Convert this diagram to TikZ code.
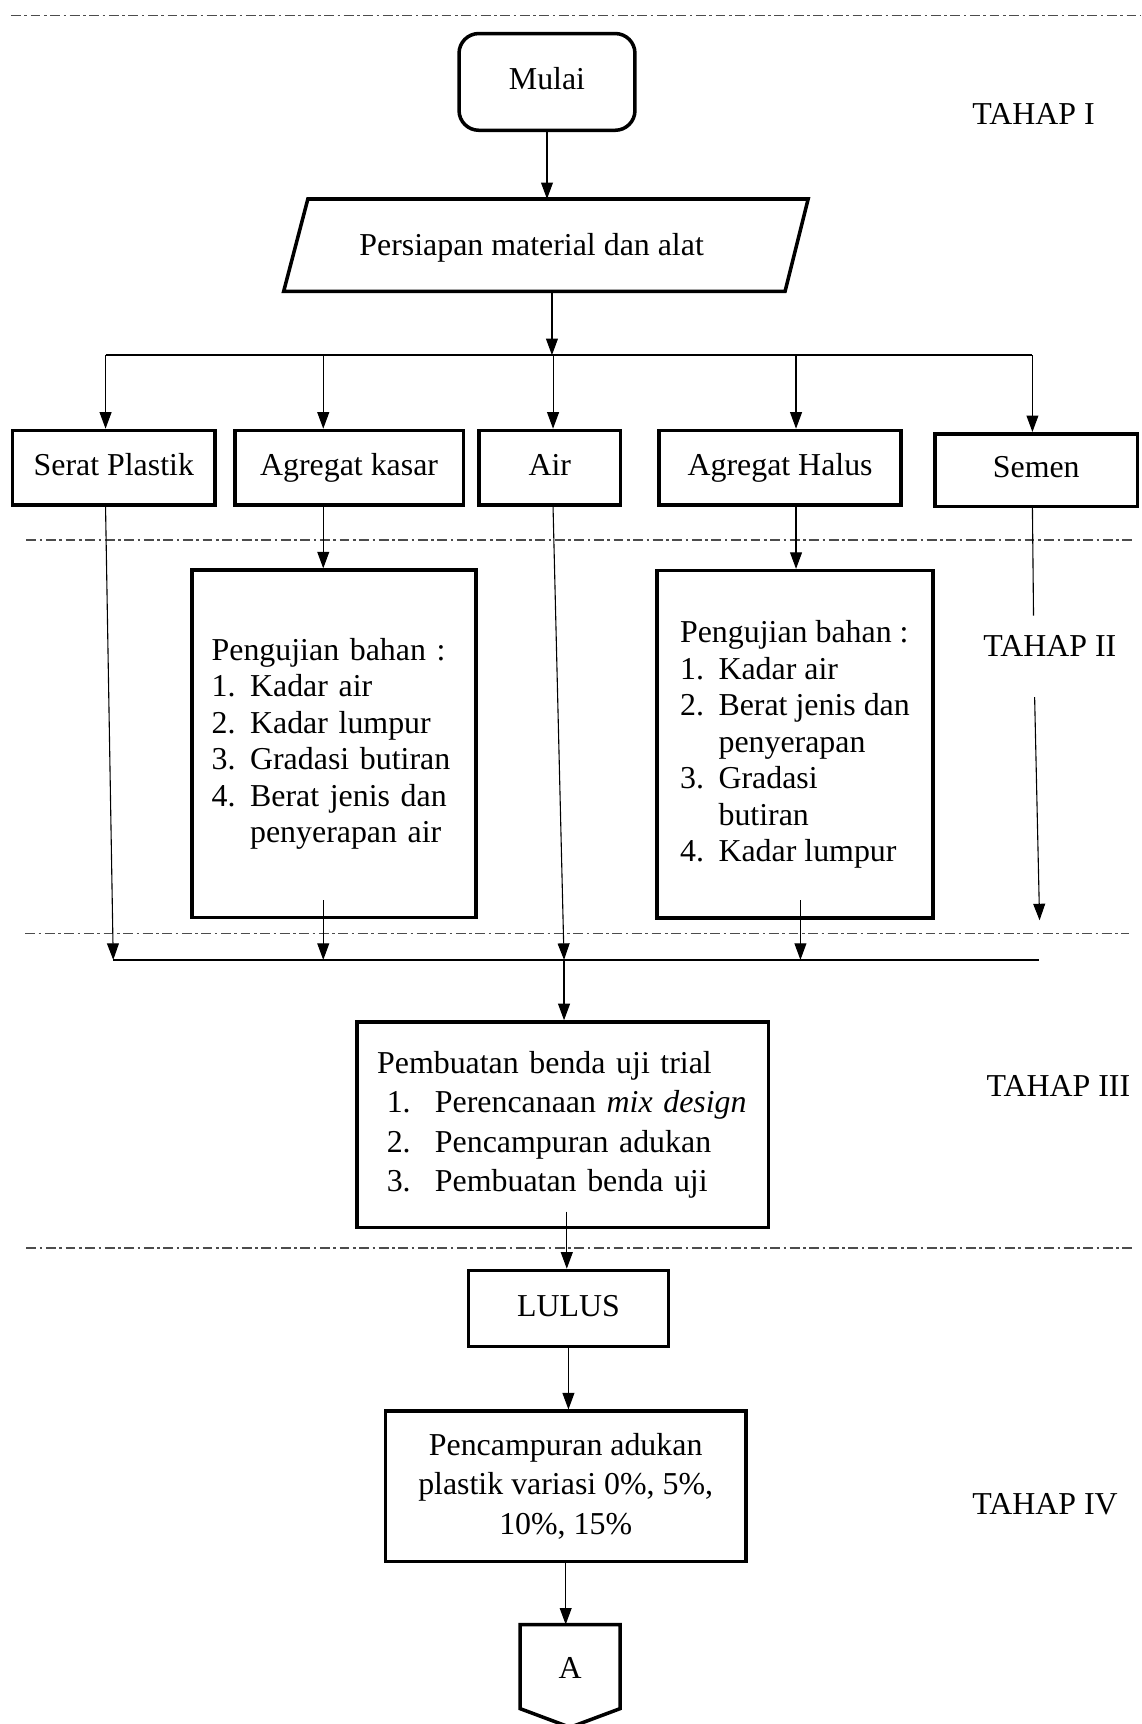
\documentclass[tikz,border=0pt]{standalone}
\usepackage{fontspec}
\setmainfont{Liberation Serif}
\usepackage{tikz}
\usetikzlibrary{calc,positioning,arrows.meta,shapes.geometric}
\newcommand{\nomor}[1]{\makebox[17.5pt][l]{#1}}
\newcommand{\butir}[2]{\hspace*{4.4pt}\makebox[21.9pt][l]{#1}#2}
\tikzset{
	huruf/.style={font=\fontsize{14.5}{16.6}\selectfont, inner sep=0pt},
	satu/.style={huruf, text height=10pt, text depth=3pt},
	kotak/.style={draw, line width=1.6pt},
	panah/.style={-{Triangle[length=7.5pt,width=5.4pt]}, line width=0.5pt},
	batas/.style={line width=0.7pt, black!70, dash pattern=on 4.5pt off 1.6pt on 1.2pt off 1.6pt}
}
\begin{document}
\begin{tikzpicture}[x=0.5pt,y=-0.5pt]
				\useasboundingbox (0,0) rectangle (1038,1568);
				% garis batas tahap
				\draw[batas] (10,14)--(1038,14);
				\draw[batas] (24,491)--(1030,491);
				\draw[batas] (23,849)--(1027,849);
				\draw[batas] (24,1135)--(1030,1135);
				% tahap I
				\node[satu, kotak, rounded corners=9pt, minimum width=80pt, minimum height=44pt] (mulai) at (497.5,74.5) {Mulai};
				\coordinate (pTL) at (280,181);
				\coordinate (pTR) at (735,181);
				\coordinate (pBR) at (714,265);
				\coordinate (pBL) at (258,265);
				\coordinate (pBawah) at (502,265);
				\draw[kotak] (pTL)--(pTR)--(pBR)--(pBL)--cycle;
				\node[satu] (persiapan) at (483.5,225) {Persiapan material dan alat};
				\coordinate (cabang) at (502,323);
				\coordinate (c1) at (96,323);
				\coordinate (c2) at (294,323);
				\coordinate (c3) at (503,323);
				\coordinate (c4) at (724,323);
				\coordinate (c5) at (939,323);
				\node[satu, kotak, minimum width=92pt, minimum height=34pt] (serat) at (103.5,425.5) {Serat Plastik};
				\node[satu, kotak, minimum width=104pt, minimum height=34pt] (kasar) at (317.5,425.5) {Agregat kasar};
				\node[satu, kotak, minimum width=64.5pt, minimum height=34pt] (air) at (500,425.5) {Air};
				\node[satu, kotak, minimum width=110pt, minimum height=34pt] (halus) at (709.5,425.5) {Agregat Halus};
				\node[satu, kotak, minimum width=92pt, minimum height=33pt] (semen) at (942.5,427.5) {Semen};
				\draw[panah] (mulai.south)--(mulai.south |- pTL);
				\draw[panah] (pBawah)--(cabang);
				\draw[line width=0.7pt] (c1)--(c5);
				\draw[panah] (c1)--(c1 |- serat.north);
				\draw[panah] (c2)--(c2 |- kasar.north);
				\draw[panah] (c3)--(c3 |- air.north);
				\draw[panah] (c4)--(c4 |- halus.north);
				\draw[panah] (c5)--(c5 |- semen.north);
				% tahap II
				\node[huruf, kotak, align=left, text width=111.25pt, inner xsep=9pt, minimum height=158pt] (ujikasar) at (303.75,676.5) {Pengujian bahan :\\
					\nomor{1.}Kadar air\\
					\nomor{2.}Kadar lumpur\\
					\nomor{3.}Gradasi butiran\\
					\nomor{4.}Berat jenis dan\\
					\nomor{}penyerapan air};
				\node[huruf, kotak, align=left, minimum width=125.5pt, minimum height=158pt] (ujihalus) at (723,677) {Pengujian bahan :\\
					\nomor{1.}Kadar air\\
					\nomor{2.}Berat jenis dan\\
					\nomor{}penyerapan\\
					\nomor{3.}Gradasi\\
					\nomor{}butiran\\
					\nomor{4.}Kadar lumpur};
				\draw[panah] (c2 |- kasar.south)--(c2 |- ujikasar.north);
				\draw[panah] (c4 |- halus.south)--(c4 |- ujihalus.north);
				% pengumpul
				\coordinate (k1) at (103,873);
				\coordinate (k2) at (294,873);
				\coordinate (k3) at (513,873);
				\coordinate (k4) at (728,873);
				\coordinate (k5) at (945,873);
				\coordinate (u1) at (294,819);
				\coordinate (u2) at (728,819);
				\coordinate (s1) at (940,560);
				\coordinate (s2) at (941,634);
				\coordinate (s3) at (945.5,837);
				\draw[line width=0.7pt] (k1)--(k5);
				\draw[panah] (c1 |- serat.south)--(k1);
				\draw[panah] (c3 |- air.south)--(k3);
				\draw[panah] (u1)--(k2);
				\draw[panah] (u2)--(k4);
				\draw[line width=0.5pt] (c5 |- semen.south)--(s1);
				\draw[panah] (s2)--(s3);
				% tahap III
				\node[font=\fontsize{14.5}{18}\selectfont, inner sep=0pt, kotak, align=left, text width=168.75pt, inner xsep=9.25pt, minimum height=93.5pt] (trial) at (511.75,1023) {Pembuatan benda uji trial\\
					\butir{1.}{Perencanaan \textit{mix design}}\\
					\butir{2.}{Pencampuran adukan}\\
					\butir{3.}{Pembuatan benda uji}};
				\coordinate (t1) at (515.5,1102);
				\node[satu, kotak, minimum width=91pt, minimum height=34.5pt] (lulus) at (517,1190) {LULUS};
				\draw[panah] (k3)--(k3 |- trial.north);
				\draw[panah] (t1)--(t1 |- lulus.north);
				% tahap IV
				\node[font=\fontsize{14.5}{18}\selectfont, inner sep=0pt, kotak, align=center, minimum width=164pt, minimum height=68.25pt] (campur) at (514.5,1351.75) {Pencampuran adukan\\
					plastik variasi 0\%, 5\%,\\
					10\%, 15\%};
				\draw[panah] (lulus.south)--(lulus.south |- campur.north);
				\coordinate (aTL) at (473,1477.5);
				\coordinate (aTR) at (564,1477.5);
				\coordinate (aR) at (564,1554);
				\coordinate (aTip) at (518.5,1571);
				\coordinate (aL) at (473,1554);
				\draw[kotak] (aTL)--(aTR)--(aR)--(aTip)--(aL)--cycle;
				\node[satu] (konA) at (518.6,1520) {A};
				\draw[panah] (campur.south)--(campur.south |- aTL);
				% label tahap
				\node[satu, anchor=west] (tahap1) at (884,106) {TAHAP I};
				\node[satu, anchor=west] (tahap2) at (894,590) {TAHAP II};
				\node[satu, anchor=west] (tahap3) at (897,990.6) {TAHAP III};
				\node[satu, anchor=west] (tahap4) at (884,1370.6) {TAHAP IV};
\end{tikzpicture}
\end{document}
